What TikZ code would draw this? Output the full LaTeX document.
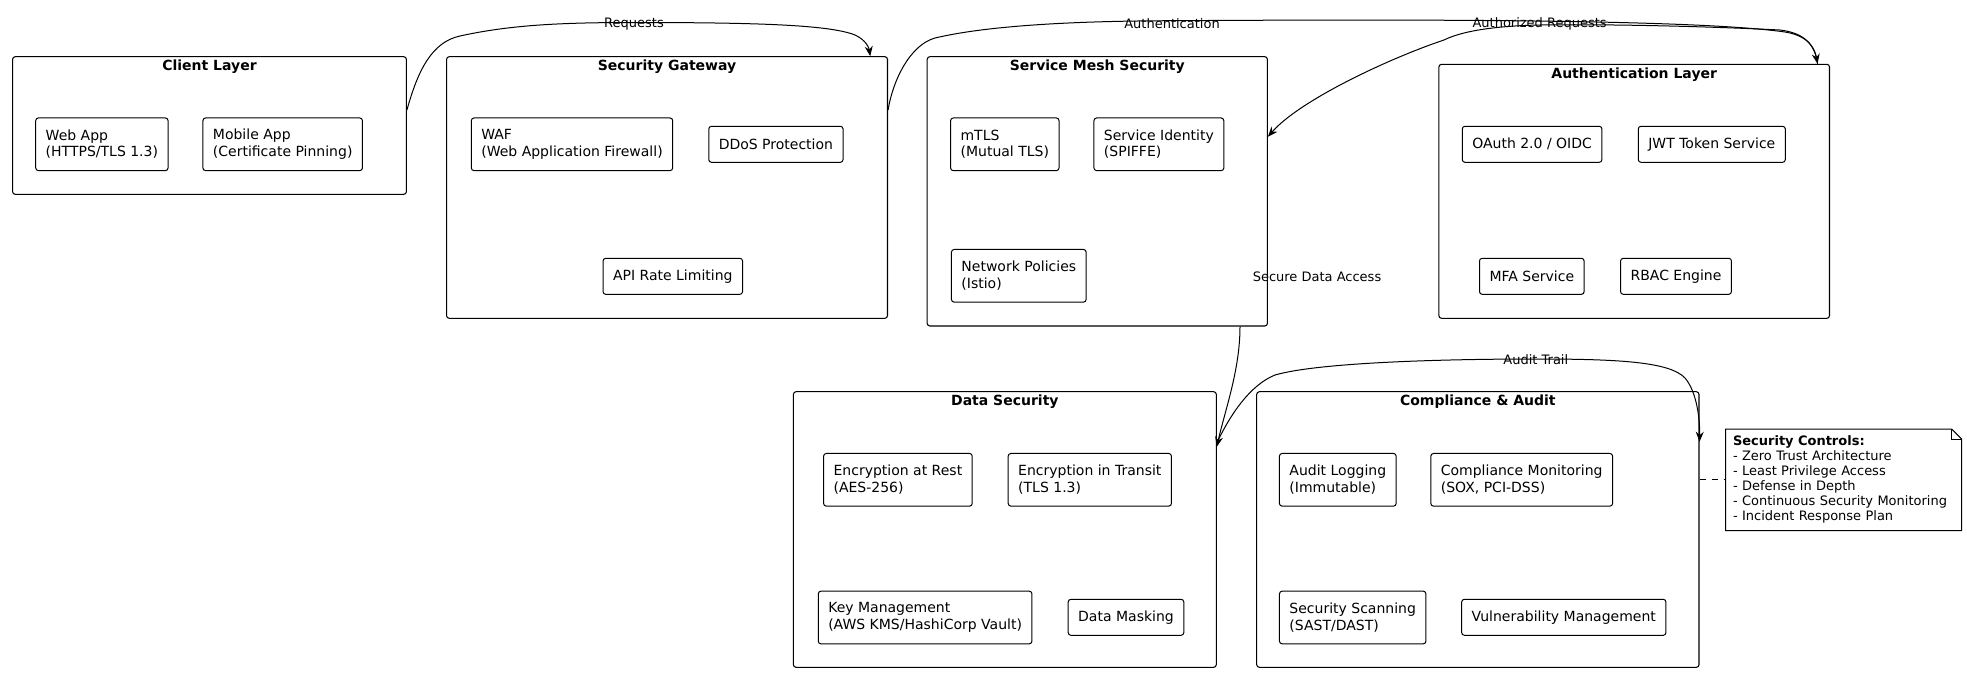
\documentclass[tikz,border=0pt]{standalone}
\usepackage{fontspec}
\setmainfont{DejaVu Sans}
\usepackage{tikz}
\usetikzlibrary{arrows.meta,calc}
\tikzset{
  layerbox/.style={
    draw,
    line width=0.8pt,
    rounded corners=2pt,
    inner sep=0pt
  },
  layerT/.style={
    font=\fontsize{10.5}{12.4}\selectfont\bfseries,
    inner sep=0pt
  },
  block/.style={
    draw,
    line width=0.75pt,
    rounded corners=2pt,
    align=left,
    inner xsep=7.5pt,
    minimum height=27pt,
    font=\fontsize{10.5}{12.4}\selectfont
  },
  blockB/.style={
    block,
    minimum height=39.5pt
  },
  flow/.style={
    -{Stealth[length=7.5pt,width=6pt,inset=2.5pt]},
    line width=0.75pt
  },
  flowlabel/.style={
    font=\fontsize{9.75}{11.25}\selectfont,
    inner sep=0pt
  },
  memo/.style={
    align=left,
    text width=166pt,
    inner xsep=5.25pt,
    minimum height=75.75pt,
    font=\fontsize{9.75}{11.25}\selectfont
  }
}

\begin{document}
\begin{tikzpicture}[x=0.75pt,y=-0.75pt]
    \useasboundingbox (0,0) rectangle (1967,672);
    % layers
    \node[layerbox, minimum width=295.35pt, minimum height=103.2pt] (client) at (209.5,125.5) {};
    \node[layerbox, minimum width=330.7pt, minimum height=196.2pt] (gateway) at (667.05,187.5) {};
    \node[layerbox, minimum width=255.15pt, minimum height=201.98pt] (mesh) at (1097.3,191.35) {};
    \node[layerbox, minimum width=292.95pt, minimum height=190.5pt] (authl) at (1634.2,191.3) {};
    \node[layerbox, minimum width=317.18pt, minimum height=206.7pt] (datasec) at (1004.85,529.5) {};
    \node[layerbox, minimum width=331.73pt, minimum height=206.7pt] (comp) at (1477.85,529.5) {};
    \node[layerT] (clientT) at ($(client.north)+(0,10.5)$) {Client Layer};
    \node[layerT] (gatewayT) at ($(gateway.north)+(0,10.5)$) {Security Gateway};
    \node[layerT] (meshT) at ($(mesh.north)+(0,10.5)$) {Service Mesh Security};
    \node[layerT] (authlT) at ($(authl.north)+(0,10.5)$) {Authentication Layer};
    \node[layerT] (datasecT) at ($(datasec.north)+(0,10.5)$) {Data Security};
    \node[layerT] (compT) at ($(comp.north)+(0,10.5)$) {Compliance \& Audit};
    % components
    \node[blockB] (webapp) at (101.9,144.3) {Web App\\(HTTPS/TLS 1.3)};
    \node[blockB] (mobile) at (282.7,144.3) {Mobile App\\(Certificate Pinning)};
    \node[blockB] (waf) at (572,144.3) {WAF\\(Web Application Firewall)};
    \node[block] (ddos) at (775.9,144.3) {DDoS Protection};
    \node[block] (ratelimit) at (672.8,276.3) {API Rate Limiting};
    \node[blockB] (mtls) at (1004.8,144.3) {mTLS\\(Mutual TLS)};
    \node[blockB] (spiffe) at (1158.9,144.3) {Service Identity\\(SPIFFE)};
    \node[blockB] (netpol) at (1018.8,275.8) {Network Policies\\(Istio)};
    \node[block] (oauth) at (1532.1,144.3) {OAuth 2.0 / OIDC};
    \node[block] (jwt) at (1711.8,144.3) {JWT Token Service};
    \node[block] (mfa) at (1531.8,276.3) {MFA Service};
    \node[block] (rbac) at (1676,276.3) {RBAC Engine};
    \node[blockB] (atrest) at (897.9,479.8) {Encryption at Rest\\(AES-256)};
    \node[blockB] (intransit) at (1089.8,479.8) {Encryption in Transit\\(TLS 1.3)};
    \node[blockB] (kms) at (925.1,617.5) {Key Management\\(AWS KMS/HashiCorp Vault)};
    \node[block] (masking) at (1126,617.3) {Data Masking};
    \node[blockB] (auditlog) at (1337.8,479.8) {Audit Logging\\(Immutable)};
    \node[blockB] (compmon) at (1521.7,479.8) {Compliance Monitoring\\(SOX, PCI-DSS)};
    \node[blockB] (scanning) at (1352.7,617.5) {Security Scanning\\(SAST/DAST)};
    \node[block] (vuln) at (1563.8,617.3) {Vulnerability Management};
    % note
    \node[memo] (controls) at (1843.65,479.8) {\textbf{Security Controls:}\\- Zero Trust Architecture\\- Least Privilege Access\\- Defense in Depth\\- Continuous Security Monitoring\\- Incident Response Plan};
    \draw[line width=0.75pt] (controls.north west) -- ($(controls.north east)+(-10,0)$) -- ($(controls.north east)+(0,10)$) -- (controls.south east) -- (controls.south west) -- cycle;
    \draw[line width=0.75pt] ($(controls.north east)+(-10,0)$) |- ($(controls.north east)+(0,10)$);
    \draw[line width=0.75pt, dash pattern=on 5pt off 4pt] (comp.east |- controls.west) -- (controls.west);
    % flows
    \draw[flow] ($(client.east)+(0,-15.5)$) .. controls (418,70) and (432,42) .. (460,36) .. controls (510,25) and (560,22.5) .. (634,22.5) .. controls (760,22.5) and (830,25) .. (855,35) .. controls (866,40) and (869,48) .. ($(gateway.north east)+(-17.8,0)$);
    \node[flowlabel] (lblReq) at (634,24) {Requests};
    \draw[flow] ($(gateway.east)+(0,-77.5)$) .. controls (893,80) and (910,45) .. (935,38) .. controls (990,25) and (1080,21) .. (1172,20.7) .. controls (1450,19) and (1700,20) .. (1785,32) .. controls (1810,36) and (1815,50) .. ($(authl.north east)+(-12.5,0)$);
    \node[flowlabel] (lblAuth) at (1172,24) {Authentication};
    \draw[flow] ($(authl.north east)+(-12.5,0)$) .. controls (1815,45) and (1805,33) .. (1780,30) .. controls (1700,26) and (1600,24) .. (1540,25) .. controls (1490,26) and (1460,32) .. (1444,40) .. controls (1390,58) and (1300,100) .. ($(mesh.east)+(0,-54.65)$);
    \node[flowlabel] (lblAuthz) at (1539.6,24) {Authorized Requests};
    \draw[flow] ($(mesh.south)+(142.7,0)$) .. controls (1240,370) and (1225,410) .. ($(datasec.east)+(0,-82.8)$);
    \node[flowlabel] (lblData) at (1317,276.7) {Secure Data Access};
    \draw[flow] ($(datasec.east)+(0,-86.5)$) .. controls (1230,415) and (1250,385) .. (1275,375) .. controls (1320,362) and (1450,359) .. (1536,359) .. controls (1620,359) and (1670,362) .. (1685,378) .. controls (1697,392) and (1700,420) .. ($(comp.east)+(0,-87.8)$);
    \node[flowlabel] (lblAudit) at (1535.8,360) {Audit Trail};
\end{tikzpicture}
\end{document}
